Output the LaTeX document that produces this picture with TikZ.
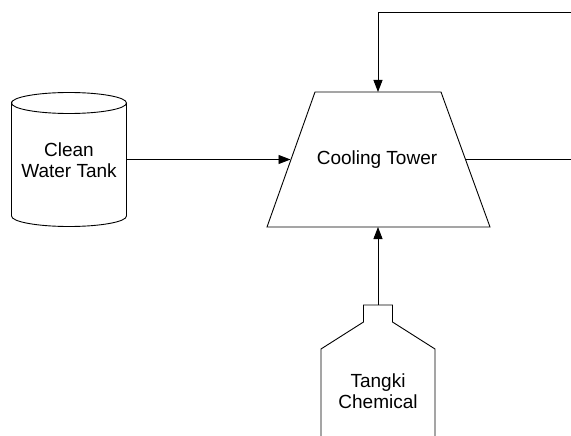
\documentclass[tikz,border=0pt]{standalone}
\usepackage{fontspec}
\setmainfont{Liberation Sans}
\usetikzlibrary{arrows.meta}
\begin{document}
\begin{tikzpicture}[x=1pt,y=-1pt,
  shp/.style={draw=black,line width=0.9pt,line join=miter},
  lbl/.style={font=\fontsize{19}{20.5}\selectfont,align=center,inner sep=0pt},
  flow/.style={draw=black,line width=0.9pt,-{Triangle[length=12pt,width=9pt]}},
  pipe/.style={draw=black,line width=0.9pt}]
\useasboundingbox (0,0) rectangle (571,436);
% clean water tank (cylinder)
\draw[shp] (11.5,103) arc[start angle=180,end angle=360,x radius=57.5,y radius=10.5]
  arc[start angle=0,end angle=180,x radius=57.5,y radius=10.5] -- (11.5,216)
  arc[start angle=180,end angle=0,x radius=57.5,y radius=10.5] -- (126.5,103);
\node[lbl] (tank) at (69,160) {Clean\\Water Tank};
\coordinate (tankE) at (126.5,159.5);
% cooling tower
\draw[shp] (315,92) -- (441,92) -- (490,227) -- (267,227) -- cycle;
\node[lbl] (tower) at (377,160) {Cooling Tower};
\coordinate (towerW) at (290.5,159.5);
\coordinate (towerE) at (466,159.5);
\coordinate (towerN) at (378,92);
\coordinate (towerS) at (378,227);
% chemical tank (bottle)
\draw[shp] (321,436) -- (321,349) -- (363.5,322) -- (363.5,305) -- (392.5,305) -- (392.5,322) -- (435,349) -- (435,436);
\node[lbl] (chem) at (378,391) {Tangki\\Chemical};
\coordinate (chemN) at (378,305);
% off-page ends
\coordinate (outE) at (571,159.5);
\coordinate (inTop) at (571,12);
\coordinate (bend) at (378,12);
% connectors
\draw[flow] (tankE) -- (towerW);
\draw[pipe] (towerE) -- (outE);
\draw[flow] (inTop) -- (bend) -- (towerN);
\draw[flow] (chemN) -- (towerS);
\end{tikzpicture}
\end{document}
